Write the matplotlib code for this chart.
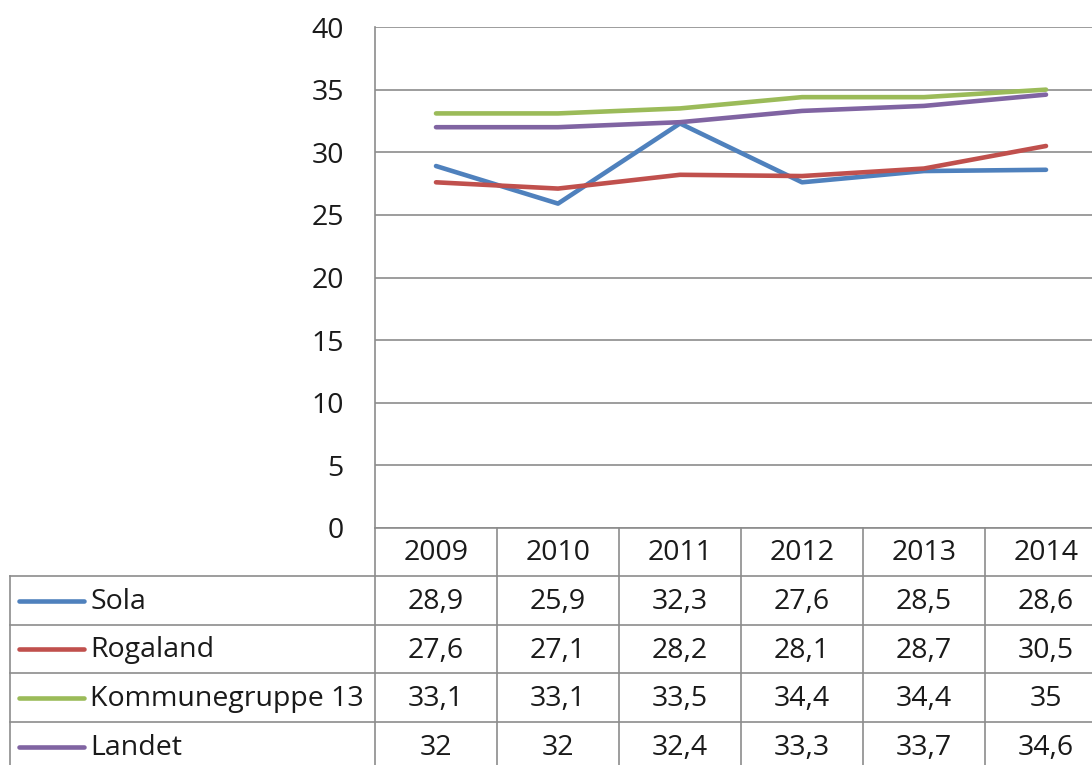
import matplotlib
matplotlib.use("Agg")
import matplotlib.pyplot as plt
from matplotlib.lines import Line2D

plt.rcParams['font.family'] = ['Open Sans', 'DejaVu Sans']

years = ["2009", "2010", "2011", "2012", "2013", "2014"]
series_names = ["Sola", "Rogaland", "Kommunegruppe 13", "Landet"]
sola = [28.9, 25.9, 32.3, 27.6, 28.5, 28.6]
rogaland = [27.6, 27.1, 28.2, 28.1, 28.7, 30.5]
kommunegruppe = [33.1, 33.1, 33.5, 34.4, 34.4, 35.0]
landet = [32.0, 32.0, 32.4, 33.3, 33.7, 34.6]
labels_table = [
    ["28,9", "25,9", "32,3", "27,6", "28,5", "28,6"],
    ["27,6", "27,1", "28,2", "28,1", "28,7", "30,5"],
    ["33,1", "33,1", "33,5", "34,4", "34,4", "35"],
    ["32", "32", "32,4", "33,3", "33,7", "34,6"],
]
yticks = [0, 5, 10, 15, 20, 25, 30, 35, 40]

colors = ["#4F81BD", "#C0504D", "#9BBB59", "#8064A2"]
grid_c = "#8C8C8C"
W, H = 1092, 765
fig = plt.figure(figsize=(W / 100, H / 100), dpi=100)

fs = 20.5
tc = "#1a1a1a"

# plot area in pixels
x0, x1 = 375, 1107
y_top, y_bot = 27, 528
ax = fig.add_axes([x0 / W, 1 - y_bot / H, (x1 - x0) / W, (y_bot - y_top) / H])
ax.set_xlim(-0.5, len(years) - 0.5)
ax.set_ylim(0, 40)
ax.set_yticks(yticks)
ax.set_xticks([])
for s in ["top", "right", "bottom"]:
    ax.spines[s].set_visible(False)
ax.spines["left"].set_color(grid_c)
ax.spines["left"].set_linewidth(1.2)
ax.yaxis.grid(True, color=grid_c, linewidth=1.2)
ax.set_axisbelow(True)
ax.tick_params(axis="y", length=0, pad=22.5, labelsize=fs, labelcolor=tc)

xs = list(range(len(years)))
for vals, c in zip([sola, rogaland, kommunegruppe, landet], colors):
    ax.plot(xs, vals, color=c, linewidth=3.3, solid_capstyle="round",
            solid_joinstyle="round")

# overlay for table
ov = fig.add_axes([0, 0, 1, 1])
ov.set_xlim(0, W)
ov.set_ylim(H, 0)
ov.axis("off")
lw = 1.2
col_w = 122
col_edges = [x0 + i * col_w for i in range(len(years) + 1)]
row_edges = [528, 576, 625, 673, 722, 771]
# horizontal lines
ov.add_line(Line2D([x0, W], [528, 528], color=grid_c, lw=lw))
for yy in row_edges[1:-1]:
    ov.add_line(Line2D([10, W], [yy, yy], color=grid_c, lw=lw))
# vertical lines
ov.add_line(Line2D([10, 10], [576, H], color=grid_c, lw=lw))
ov.add_line(Line2D([x0, x0], [528, H], color=grid_c, lw=lw))
for xx in col_edges[1:-1]:
    ov.add_line(Line2D([xx, xx], [528, H], color=grid_c, lw=lw))

dy = 1.5
for i, y in enumerate(years):
    cx = x0 + col_w * (i + 0.5)
    ov.text(cx, (528 + 576) / 2 + dy, y, ha="center", va="center",
            fontsize=fs, color=tc)
for r, name in enumerate(series_names):
    cy = (row_edges[r + 1] + row_edges[r + 2]) / 2
    ov.add_line(Line2D([19, 84], [cy, cy], color=colors[r], lw=3.3,
                       solid_capstyle="round"))
    ov.text(90, cy + dy, name, ha="left", va="center", fontsize=fs, color=tc)
    for i in range(len(years)):
        cx = x0 + col_w * (i + 0.5)
        ov.text(cx, cy + dy, labels_table[r][i], ha="center", va="center",
                fontsize=fs, color=tc)

fig.savefig("out.png", dpi=100)
